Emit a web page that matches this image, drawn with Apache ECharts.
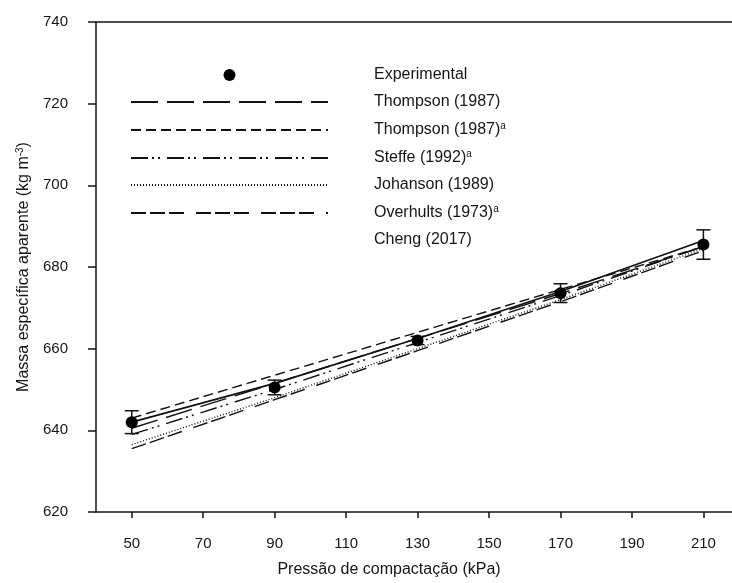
<!DOCTYPE html>
<html>
<head>
<meta charset="utf-8">
<script src="https://cdn.jsdelivr.net/npm/echarts@6/dist/echarts.min.js"></script>
<style>
html,body{margin:0;padding:0;background:#fff;}
#chart{width:732px;height:583px;}
</style>
</head>
<body>
<div id="chart"></div>
<script>
// ---- data ----
const xValues = [50, 90, 130, 170, 210];
const experimental = [642.0, 650.5, 662.0, 673.6, 685.5];
const expError = [2.8, 1.8, 1.0, 2.3, 3.6];
const thompson = [640.5, 651.5, 662.5, 673.5, 685.0];
const thompsonA = [643.0, 653.5, 664.0, 674.5, 685.0];
const steffeA = [639.0, 650.0, 661.5, 673.0, 685.0];
const johanson = [636.5, 648.0, 660.0, 672.0, 684.5];
const overhultsA = [635.5, 647.5, 659.5, 671.5, 684.0];
const cheng = [642.0, 651.5, 662.5, 674.0, 686.5];
const xTicks = [50, 70, 90, 110, 130, 150, 170, 190, 210];
const yTicks = [620, 640, 660, 680, 700, 720, 740];

const FONT = "'Liberation Sans', Arial, sans-serif";
const INK = '#151515';

function pairs(ys) { return xValues.map((x, i) => [x, ys[i]]); }

const lineDefs = [
  { name: 'Thompson (1987)', data: thompson, type: [27, 9] },
  { name: 'Thompson (1987)^a', data: thompsonA, type: [10, 5] },
  { name: 'Steffe (1992)^a', data: steffeA, type: [17, 4, 2, 4, 2, 7] },
  { name: 'Johanson (1989)', data: johanson, type: [1, 2] },
  { name: 'Overhults (1973)^a', data: overhultsA, type: [15, 4, 15, 4, 15, 12] },
  { name: 'Cheng (2017)', data: cheng, type: 'solid' }
];

const series = lineDefs.map(d => ({
  name: d.name,
  type: 'line',
  data: pairs(d.data),
  symbol: 'none',
  showSymbol: false,
  silent: true,
  z: 2,
  lineStyle: { color: '#111', width: d.type === 'solid' ? 1.7 : 1.4, type: d.type },
  itemStyle: { color: '#111' }
}));

series.push({
  name: 'errorbars',
  type: 'custom',
  z: 4,
  silent: true,
  data: xValues.map((x, i) => [x, experimental[i] - expError[i], experimental[i] + expError[i]]),
  renderItem: function (params, api) {
    const lo = api.coord([api.value(0), api.value(1)]);
    const hi = api.coord([api.value(0), api.value(2)]);
    const w = 7;
    const st = { stroke: '#111', lineWidth: 1.5 };
    return {
      type: 'group',
      children: [
        { type: 'line', shape: { x1: lo[0], y1: lo[1], x2: hi[0], y2: hi[1] }, style: st },
        { type: 'line', shape: { x1: lo[0] - w, y1: lo[1], x2: lo[0] + w, y2: lo[1] }, style: st },
        { type: 'line', shape: { x1: hi[0] - w, y1: hi[1], x2: hi[0] + w, y2: hi[1] }, style: st }
      ]
    };
  }
});

series.push({
  name: 'Experimental',
  type: 'scatter',
  data: pairs(experimental),
  symbol: 'circle',
  symbolSize: 12,
  z: 5,
  silent: true,
  itemStyle: { color: '#000', opacity: 1 }
});

const legendNames = ['Experimental'].concat(lineDefs.map(d => d.name));
const hiddenSymbol = { color: 'rgba(0,0,0,0)', borderWidth: 0, opacity: 0 };

const chart = echarts.init(document.getElementById('chart'), null, { renderer: 'canvas' });
chart.setOption({
  animation: false,
  backgroundColor: '#fff',
  grid: { left: 96, top: 22, bottom: 71, right: 0, containLabel: false },
  legend: {
    orient: 'vertical',
    left: 125,
    top: 62,
    itemWidth: 197,
    itemHeight: 12,
    itemGap: 11,
    selectedMode: false,
    data: legendNames.map(n => {
      if (n === 'Experimental') return { name: n, icon: 'circle', itemStyle: { color: '#000', opacity: 1 } };
      if (n === 'Cheng (2017)') return { name: n, icon: 'none' };
      return { name: n, itemStyle: hiddenSymbol };
    }),
    formatter: function (name) {
      if (name.endsWith('^a')) return '{n|' + name.slice(0, -2) + '}{s|a}';
      return '{n|' + name + '}';
    },
    textStyle: {
      color: INK,
      fontFamily: FONT,
      padding: [0, 0, 0, 41],
      rich: {
        n: { fontSize: 16, fontFamily: FONT, color: INK, lineHeight: 18 },
        s: { fontSize: 10, fontFamily: FONT, color: INK, verticalAlign: 'top', lineHeight: 18 }
      }
    }
  },
  xAxis: [{
    type: 'value',
    min: 40,
    max: 218,
    position: 'bottom',
    splitLine: { show: false },
    axisLine: { show: true, onZero: false, lineStyle: { color: INK, width: 1.5 } },
    axisTick: { show: true, length: 6, inside: false, customValues: xTicks, lineStyle: { color: INK, width: 1.5 } },
    axisLabel: { customValues: xTicks, margin: 24, color: INK, fontSize: 15, fontFamily: FONT },
    name: 'Pressão de compactação (kPa)',
    nameLocation: 'middle',
    nameGap: 50,
    nameTextStyle: { color: INK, fontSize: 16, fontFamily: FONT, padding: [0, 50, 0, 0] }
  }, {
    type: 'value',
    min: 40,
    max: 218,
    position: 'top',
    splitLine: { show: false },
    axisLine: { show: true, onZero: false, lineStyle: { color: INK, width: 1.5 } },
    axisTick: { show: false },
    axisLabel: { show: false }
  }],
  yAxis: {
    type: 'value',
    min: 620,
    max: 740,
    interval: 20,
    splitLine: { show: false },
    axisLine: { show: true, onZero: false, lineStyle: { color: INK, width: 1.5 } },
    axisTick: { show: true, length: 8, inside: false, lineStyle: { color: INK, width: 1.5 } },
    axisLabel: { margin: 28, color: INK, fontSize: 15, fontFamily: FONT },
    name: '{a|Massa específica aparente (kg m}{s|-3}{a|)}',
    nameLocation: 'middle',
    nameGap: 62,
    nameRotate: 90,
    nameTextStyle: {
      color: INK, fontFamily: FONT,
      rich: {
        a: { fontSize: 16, fontFamily: FONT, color: INK, lineHeight: 18 },
        s: { fontSize: 10, fontFamily: FONT, color: INK, verticalAlign: 'top', lineHeight: 18 }
      }
    }
  },
  series: series
});
</script>
</body>
</html>
